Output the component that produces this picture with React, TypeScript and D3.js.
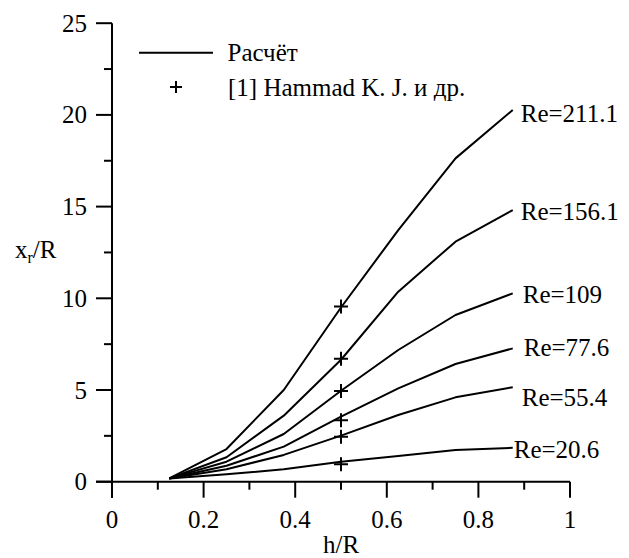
import React from "react";
import * as d3 from "d3";

const hR = [0.125, 0.25, 0.375, 0.5, 0.625, 0.75, 0.875];
const reLabels = ["Re=211.1", "Re=156.1", "Re=109", "Re=77.6", "Re=55.4", "Re=20.6"];
const re211 = [0.18, 1.78, 5.0, 9.5, 13.72, 17.63, 20.27];
const re156 = [0.18, 1.33, 3.6, 6.65, 10.36, 13.09, 14.81];
const re109 = [0.18, 1.09, 2.6, 4.96, 7.18, 9.09, 10.27];
const re77 = [0.18, 0.87, 1.91, 3.55, 5.09, 6.42, 7.27];
const re55 = [0.18, 0.68, 1.46, 2.51, 3.64, 4.6, 5.15];
const re20 = [0.18, 0.4, 0.68, 1.09, 1.4, 1.73, 1.85];
const seriesValues = [re211, re156, re109, re77, re55, re20];

const expX = [0.5, 0.5, 0.5, 0.5, 0.5, 0.5];
const expY = [9.55, 6.7, 4.95, 3.35, 2.45, 0.95];

const xMajorTicks = [0, 0.2, 0.4, 0.6, 0.8, 1];
const xMinorTicks = [0.1, 0.3, 0.5, 0.7, 0.9];
const xTickLabels = ["0", "0.2", "0.4", "0.6", "0.8", "1"];
const yMajorTicks = [0, 5, 10, 15, 20, 25];
const yMinorTicks = [2.5, 7.5, 12.5, 17.5, 22.5];
const yTickLabels = ["0", "5", "10", "15", "20", "25"];

const legendLine = "Расчёт";
const legendMarker = "[1] Hammad K. J. и др.";

// label offsets (px) relative to each line's end point
const labelOffsets = [
  [8, 12],
  [8, 10],
  [10, 10],
  [11, 8],
  [9, 19],
  [1, 10],
];

const FONT = "Liberation Serif";

function T(props: any) {
  const { children, style, ...rest } = props;
  return (
    <text style={{ fontFamily: FONT, fontSize: 25, ...(style || {}) }} {...rest}>
      {children}
    </text>
  );
}

export default function App() {
  const W = 629;
  const H = 558;
  const x = d3.scaleLinear().domain([0, 1]).range([112, 570]);
  const y = d3.scaleLinear().domain([0, 25]).range([481.7, 23.2]);
  const line = d3
    .line<number>()
    .x((_, i) => x(hR[i]))
    .y((d) => y(d));

  const major = 16;
  const minor = 8;

  return (
    <svg width={W} height={H} style={{ position: "absolute", left: 0, top: 0, background: "#fff" }}>
      {/* axes */}
      <line x1={x(0)} x2={x(0)} y1={y(25)} y2={y(0) + major} stroke="#000" strokeWidth={2} />
      <line x1={x(0) - major} x2={x(1)} y1={y(0)} y2={y(0)} stroke="#000" strokeWidth={2} />
      {xMajorTicks.map((t, i) => (
        <g key={"xm" + i}>
          <line x1={x(t)} x2={x(t)} y1={y(0)} y2={y(0) + major} stroke="#000" strokeWidth={2} />
          <T x={x(t)} y={527.5} textAnchor="middle">
            {xTickLabels[i]}
          </T>
        </g>
      ))}
      {xMinorTicks.map((t, i) => (
        <line key={"xn" + i} x1={x(t)} x2={x(t)} y1={y(0)} y2={y(0) + minor} stroke="#000" strokeWidth={2} />
      ))}
      {yMajorTicks.map((t, i) => (
        <g key={"ym" + i}>
          <line x1={x(0) - major} x2={x(0)} y1={y(t)} y2={y(t)} stroke="#000" strokeWidth={2} />
          <T x={87} y={y(t) + 8.5} textAnchor="end">
            {yTickLabels[i]}
          </T>
        </g>
      ))}
      {yMinorTicks.map((t, i) => (
        <line key={"yn" + i} x1={x(0) - minor} x2={x(0)} y1={y(t)} y2={y(t)} stroke="#000" strokeWidth={2} />
      ))}
      {/* axis titles */}
      <T x={341} y={553} textAnchor="middle">
        h/R
      </T>
      <T x={15} y={258}>
        x
        <tspan style={{ fontSize: 16 }} dy={5}>
          r
        </tspan>
        <tspan dy={-5}>/R</tspan>
      </T>
      {/* series */}
      {seriesValues.map((vals, si) => {
        const last = vals.length - 1;
        const ex = x(hR[last]);
        const ey = y(vals[last]);
        return (
          <g key={"s" + si}>
            <path d={line(vals) || ""} fill="none" stroke="#000" strokeWidth={2} strokeLinejoin="round" />
            <T x={ex + labelOffsets[si][0]} y={ey + labelOffsets[si][1]}>
              {reLabels[si]}
            </T>
          </g>
        );
      })}
      {/* experiment markers */}
      {expY.map((v, i) => (
        <path
          key={"e" + i}
          d={`M${x(expX[i]) - 7},${y(v)}H${x(expX[i]) + 7}M${x(expX[i])},${y(v) - 7}V${y(v) + 7}`}
          stroke="#000"
          strokeWidth={2}
        />
      ))}
      {/* legend */}
      <line x1={139} x2={213} y1={52.7} y2={52.7} stroke="#000" strokeWidth={2} />
      <T x={227.5} y={61}>
        {legendLine}
      </T>
      <path d="M170,87H182M176,81V93" stroke="#000" strokeWidth={2} />
      <T x={228} y={96}>
        {legendMarker}
      </T>
    </svg>
  );
}
